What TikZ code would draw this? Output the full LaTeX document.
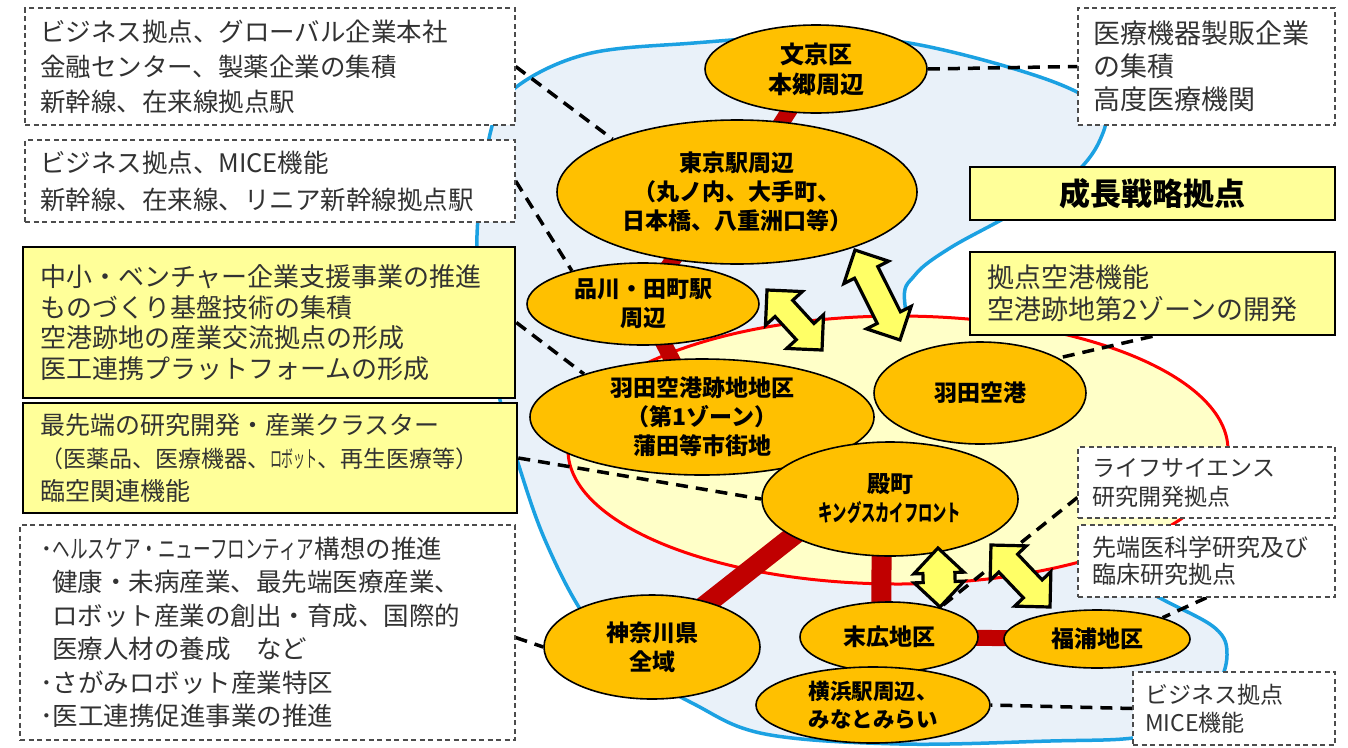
\documentclass[tikz,border=0pt]{standalone}
\usepackage{fontspec}
\usepackage{graphicx}
\newfontfamily\jp{Noto Sans CJK JP}
\usetikzlibrary{shapes.geometric,calc}
\pgfdeclarelayer{bg}
\pgfdeclarelayer{conn}
\pgfdeclarelayer{front}
\pgfsetlayers{bg,conn,main,front}
\definecolor{lblue}{RGB}{233,241,249}
\definecolor{bline}{RGB}{27,161,226}
\definecolor{lyel}{RGB}{255,255,200}
\definecolor{byel}{RGB}{255,255,153}
\definecolor{ayel}{RGB}{255,255,102}
\definecolor{org}{RGB}{255,192,0}
\definecolor{dred}{RGB}{192,0,0}
\definecolor{txt}{RGB}{50,50,50}
\tikzset{
  place/.style={ellipse, draw=black, line width=1.6pt, fill=org, inner sep=0pt,
    align=center, text=black, font=\jp\bfseries\fontsize{23}{29}\selectfont},
  dbox/.style={rectangle, draw=black!70, line width=1.3pt, dash pattern=on 5pt off 3.5pt,
    fill=white, text=txt, inner sep=0pt, align=left},
  ybox/.style={rectangle, draw=black, line width=2.6pt, fill=byel, text=txt,
    inner sep=0pt, align=left},
  redlink/.style={dred, line width=16pt},
  redlinkb/.style={dred, line width=20pt},
  dlink/.style={black, line width=3.5pt, dash pattern=on 12pt off 8pt},
  arrowshape/.style={draw=black, fill=ayel, line width=3.2pt, line join=miter}
}
\newcommand{\dbarrow}[5]{%
  \begin{scope}[shift={(#1,#2)},rotate=#3]
    \draw[arrowshape] (-#4,0) -- ({-#4+25},25) -- ({-#4+25},#5) -- ({#4-25},#5)
      -- ({#4-25},25) -- (#4,0) -- ({#4-25},-25) -- ({#4-25},-#5)
      -- ({-#4+25},-#5) -- ({-#4+25},-25) -- cycle;
  \end{scope}}
\begin{document}
\begin{tikzpicture}[x=1pt,y=-1pt]
\useasboundingbox (0,0) rectangle (1348,747);
\begin{pgfonlayer}{bg}
  \fill[white] (0,0) rectangle (1348,747);
  \draw[bline, line width=3.5pt, fill=lblue] plot[smooth cycle, tension=0.6] coordinates {
    (515,88) (587,54) (694,43) (800,37) (909,43) (1040,77) (1100,108) (1100,140)
    (1070,178) (1010,215) (950,248) (915,275) (905,305) (930,400) (1010,500)
    (1077,553) (1160,598) (1215,628) (1227,655) (1215,690) (1180,725) (1133,738)
    (1050,741) (900,744) (765,734) (694,704) (630,665) (584,615) (545,540)
    (518,463) (500,400) (484,320) (477,235) (491,130)};
  \draw[red, line width=3pt, fill=lyel] (898,450) ellipse [x radius=330, y radius=134];
\end{pgfonlayer}

% places
\node[place, minimum width=222pt, minimum height=88pt, font=\jp\bfseries\fontsize{24}{30}\selectfont] (bunkyo) at (816,69) {文京区\\本郷周辺};
\node[place, minimum width=360pt, minimum height=144pt] (tokyo) at (737,192) {東京駅周辺\\（丸ノ内、大手町、\\日本橋、八重洲口等）};
\node[place, minimum width=232pt, minimum height=82pt] (shina) at (643,304) {品川・田町駅\\周辺};
\node[place, minimum width=344pt, minimum height=116pt] (ato) at (702,417) {羽田空港跡地地区\\（第1ゾーン）\\蒲田等市街地};
\node[place, minimum width=212pt, minimum height=102pt] (haneda) at (980,393) {羽田空港};
\node[place, minimum width=256pt, minimum height=114pt] (tono) at (890,499) {殿町\\\scalebox{0.62}[1]{キングスカイフロント}};
\node[place, minimum width=216pt, minimum height=104pt] (kana) at (652,647) {神奈川県\\全域};
\node[place, minimum width=178pt, minimum height=70pt] (suehiro) at (889,637) {末広地区};
\node[place, minimum width=234pt, minimum height=76pt, font=\jp\bfseries\fontsize{21.5}{28}\selectfont] (yoko) at (873,705) {横浜駅周辺、\\みなとみらい};
\node[place, minimum width=186pt, minimum height=58pt] (fuku) at (1097,639) {福浦地区};

% boxes
\node[dbox, minimum width=490pt, minimum height=117pt, text width=460pt,
  font=\jp\fontsize{25.5}{35}\selectfont] (b1) at (270,66.5)
  {ビジネス拠点、グローバル企業本社\\金融センター、製薬企業の集積\\新幹線、在来線拠点駅};
\node[dbox, minimum width=490pt, minimum height=82pt, text width=460pt,
  font=\jp\fontsize{25.5}{37}\selectfont] (b2) at (270,181)
  {ビジネス拠点、MICE機能\\新幹線、在来線、リニア新幹線拠点駅};
\node[ybox, minimum width=492pt, minimum height=151pt, text width=458pt,
  font=\jp\fontsize{26}{30.5}\selectfont] (b3) at (269,322.5)
  {中小・ベンチャー企業支援事業の推進\\ものづくり基盤技術の集積\\空港跡地の産業交流拠点の形成\\医工連携プラットフォームの形成};
\node[ybox, minimum width=494pt, minimum height=110pt, text width=460pt,
  font=\jp\fontsize{25}{33}\selectfont] (b4) at (270,458)
  {最先端の研究開発・産業クラスター\\{\fontsize{23}{33}\selectfont （医薬品、医療機器、\scalebox{0.52}[1]{ロボット}、再生医療等）}\\臨空関連機能};
\node[dbox, minimum width=495pt, minimum height=215pt, text width=455pt,
  font=\jp\fontsize{25.5}{33.5}\selectfont] (b5) at (267.5,632.5)
  {･\scalebox{0.69}[1]{ヘルスケア・ニューフロンティア}構想の推進\\
   \hspace*{12pt}健康・未病産業、最先端医療産業、\\
   \hspace*{12pt}ロボット産業の創出・育成、国際的\\
   \hspace*{12pt}医療人材の養成　など\\
   ･さがみロボット産業特区\\
   ･医工連携促進事業の推進};
\node[dbox, minimum width=257pt, minimum height=117pt, text width=227pt,
  font=\jp\fontsize{27}{33}\selectfont] (r1) at (1206.5,66.5)
  {医療機器製販企業\\の集積\\高度医療機関};
\node[ybox, minimum width=365pt, minimum height=53pt, align=center, text=black,
  font=\jp\bfseries\fontsize{31}{36}\selectfont] (r2) at (1152.5,193.5) {成長戦略拠点};
\node[ybox, minimum width=365pt, minimum height=83pt, text width=331pt,
  font=\jp\fontsize{27}{32}\selectfont] (r3) at (1152.5,293.5)
  {拠点空港機能\\空港跡地第2ゾーンの開発};
\node[dbox, minimum width=257pt, minimum height=71pt, text width=229pt,
  font=\jp\fontsize{23}{29}\selectfont] (r4) at (1206.5,482.5)
  {ライフサイエンス\\研究開発拠点};
\node[dbox, minimum width=257pt, minimum height=72pt, text width=229pt,
  font=\jp\fontsize{24}{27}\selectfont] (r5) at (1206.5,561)
  {先端医科学研究及び\\臨床研究拠点};
\node[dbox, minimum width=202pt, minimum height=73pt, text width=178pt,
  font=\jp\fontsize{23}{28}\selectfont] (r6) at (1234,708.5)
  {ビジネス拠点\\MICE機能};

\begin{pgfonlayer}{conn}
  \draw[redlink] (bunkyo.center) -- (tokyo.center);
  \draw[redlink] ([xshift=-18pt]tokyo.center) -- (shina.center);
  \draw[redlink] (shina.center) -- (ato.center);
  \draw[redlinkb] ([xshift=-50pt]tono.center) -- (kana.center);
  \draw[redlinkb] ([xshift=-8pt]tono.center) -- ([xshift=-8pt]suehiro.center);
  \draw[redlink] (suehiro.center) -- (fuku.center);
  \draw[dlink] (b1.east) -- (tokyo.157);
  \draw[dlink] (b2.east) -- (shina.155);
  \draw[dlink] (b3.east) -- (ato.160);
  \draw[dlink] (b4.east) -- (tono.west);
  \draw[dlink] ([yshift=-5pt]b5.east) -- (kana.west);
  \draw[dlink] (bunkyo.east) -- (r1.west);
  \draw[dlink] (r3.south) -- (haneda.24);
  \draw[dlink] ([yshift=-15pt]r4.west) -- (suehiro.30);
  \draw[dlink] (r5.south) -- (fuku.18);
  \draw[dlink] (r6.west) -- (yoko.east);
\end{pgfonlayer}

\begin{pgfonlayer}{front}
  \dbarrow{794.5}{320}{-47.5}{40.7}{12}
  \dbarrow{877.5}{295}{-63.4}{50.3}{13}
  \dbarrow{939}{577.5}{-88}{29.5}{16}
  \dbarrow{1020.5}{576}{-46.4}{42.8}{13}
\end{pgfonlayer}
\end{tikzpicture}
\end{document}
